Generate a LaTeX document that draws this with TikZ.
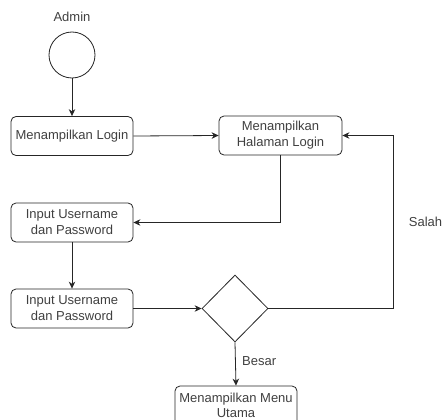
\documentclass[tikz,border=0pt]{standalone}
\usepackage{fontspec}
\setmainfont{Liberation Sans}
\usetikzlibrary{shapes.geometric,arrows.meta}
\begin{document}
\begin{tikzpicture}[x=1pt,y=-1pt,
  lbl/.style={font=\fontsize{13}{16}\selectfont, text=black!75, inner sep=0pt},
  box/.style={draw=black!85, rounded corners=5pt, minimum width=122pt, minimum height=39pt,
    align=center, font=\fontsize{13}{16}\selectfont, text=black!75, line width=0.8pt, inner sep=0pt},
  arr/.style={draw=black!85, line width=0.8pt, -{Stealth[length=7pt,width=6.5pt]}},
  ln/.style={draw=black!85, line width=0.8pt}]
\useasboundingbox (0,0) rectangle (442,420);
\clip (0,0) rectangle (442,420);
\fill[white] (0,0) rectangle (442,420);
\node[lbl] (admin) at (72,17) {Admin};
\node[draw=black!85, line width=0.8pt, circle, minimum size=46pt, inner sep=0pt] (start) at (72,55) {};
\node[box] (login) at (72,136) {Menampilkan Login};
\node[box, minimum width=123pt] (halaman) at (280.5,135.5) {Menampilkan\\Halaman Login};
\node[box] (input1) at (72,222.5) {Input Username\\dan Password};
\node[box] (input2) at (72,308.5) {Input Username\\dan Password};
\node[draw=black!85, line width=0.8pt, diamond, minimum width=66pt, minimum height=67pt, inner sep=0pt] (dia) at (235,308.5) {};
\node[box, font=\fontsize{13}{15}\selectfont] (menu) at (236,405.5) {Menampilkan Menu\\Utama};
\node[lbl] (salah) at (425.5,222) {Salah};
\node[lbl, anchor=west] (besar) at (242,361) {Besar};
\coordinate (corner) at (393,135.5);
\draw[arr] (start) -- (login);
\draw[arr] (login.east) -- (halaman.west);
\draw[arr] (halaman.south) |- (input1.east);
\draw[arr] (input1) -- (input2);
\draw[arr] (input2.east) -- (dia.west);
\draw[arr] (dia.east) -| (corner) -- (halaman.east);
\draw[arr] (dia.south) -- (menu.north);
\end{tikzpicture}
\end{document}
